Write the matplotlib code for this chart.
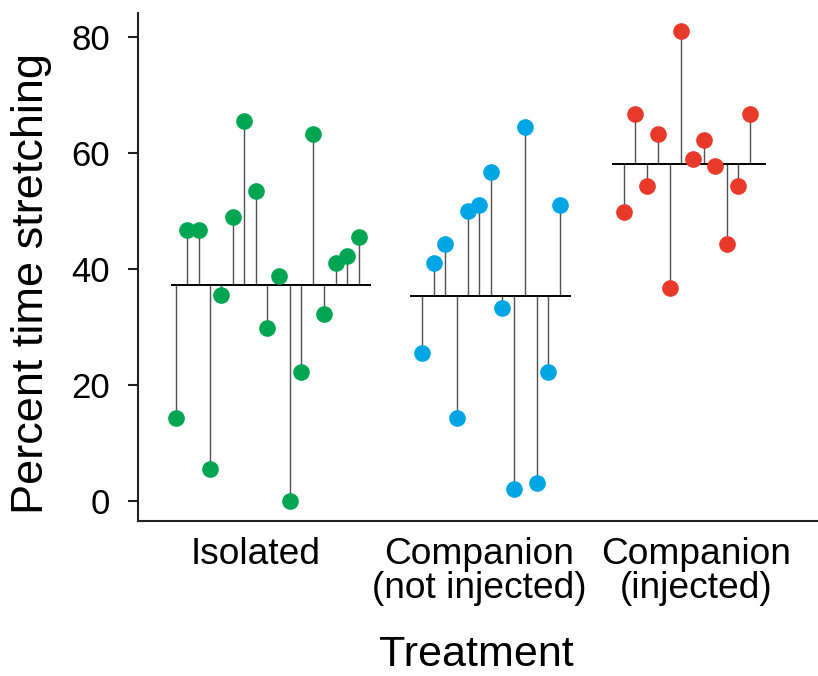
import numpy as np
import matplotlib.pyplot as plt

plt.rcParams['font.family'] = ['Liberation Sans', 'DejaVu Sans']

# values, in plotting order within each group
groups = ["Isolated", "Companion\n(not injected)", "Companion\n(injected)"]
isolated = [14.3, 46.8, 46.8, 5.5, 35.6, 49.0, 65.6, 53.4, 29.9, 38.9,
            0.0, 22.2, 63.3, 32.2, 41.1, 42.2, 45.6]
companion_not_injected = [25.5, 41.1, 44.4, 14.3, 50.1, 51.1, 56.7, 33.3,
                          2.1, 64.5, 3.2, 22.2, 51.1]
companion_injected = [49.9, 66.8, 54.4, 63.3, 36.7, 81.1, 59.0, 62.3,
                      57.8, 44.4, 54.4, 66.8]
yticks = [0, 20, 40, 60, 80]

series = [isolated, companion_not_injected, companion_injected]
colors = ["#00a651", "#00a6e4", "#e8392b"]

# layout (in units of point spacing)
starts = [0.0, 21.56, 39.19]
line_pad = [(0.44, 1.05), (1.08, 0.96), (1.02, 1.40)]
label_pos = [7.0, 26.56, 45.48]

fig = plt.figure(figsize=(8.18, 6.76), dpi=100)
ax = fig.add_axes([0.1683, 0.2293, 0.8317, 0.7519])

for vals, c, x0, (pl, pr) in zip(series, colors, starts, line_pad):
    vals = np.asarray(vals)
    x = x0 + np.arange(len(vals))
    m = vals.mean()
    ax.vlines(x, m, vals, color="#505050", lw=1.0, zorder=1)
    ax.hlines(m, x[0] - pl, x[-1] + pr, color="black", lw=1.4, zorder=2)
    ax.plot(x, vals, "o", ms=12, color=c, mec="none", zorder=3)

ax.set_xlim(-3.32, 56.15)
ax.set_ylim(-3.4, 84.2)
ax.set_yticks(yticks)
ax.set_xticks(label_pos)
ax.set_xticklabels(groups, linespacing=0.95)

for s in ["top", "right"]:
    ax.spines[s].set_visible(False)
for s in ["left", "bottom"]:
    ax.spines[s].set_linewidth(1.5)
    ax.spines[s].set_color("#222222")

ax.tick_params(axis="y", labelsize=25, length=7, width=1.5, pad=13,
               color="#222222")
ax.tick_params(axis="x", labelsize=26.7, length=0, pad=11.5)

fig.text(476 / 818, 1 / 676, "Treatment", fontsize=31,
         ha="center", va="bottom")
fig.text(31.3 / 818, (676 - 283.5) / 676, "Percent time stretching",
         fontsize=32.5, rotation=90, ha="center", va="center")

fig.savefig("out.png", dpi=100)
